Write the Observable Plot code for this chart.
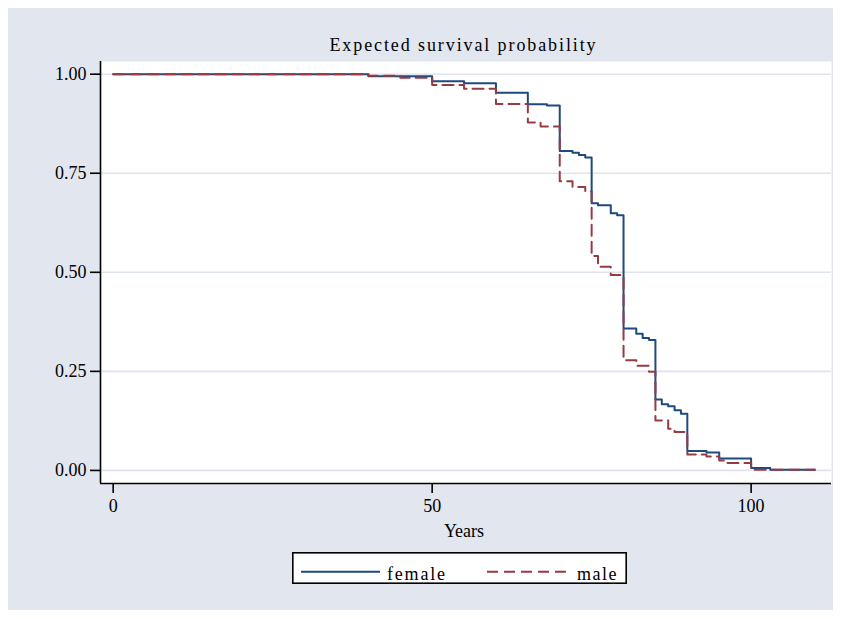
<!DOCTYPE html>
<html>
<head>
<meta charset="utf-8">
<script src="https://cdn.jsdelivr.net/npm/d3@7"></script>
<script src="https://cdn.jsdelivr.net/npm/@observablehq/plot@0.6"></script>
<style>
  html, body { margin: 0; padding: 0; background: #ffffff; }
  #wrap { position: relative; width: 841px; height: 619px; font-family: "Liberation Serif", serif; }
  #bg { position: absolute; left: 8px; top: 8px; width: 825px; height: 602px; background: #e2e6ef; }
  #chart { position: absolute; left: 0; top: 0; }
  #title { position: absolute; left: 98px; width: 731px; top: 36px; text-align: center;
           font-size: 18px; line-height: 18px; letter-spacing: 1.9px; color: #000; }
  #legend { position: absolute; left: 292px; top: 552px; width: 335px; height: 32px; }
</style>
</head>
<body>
<div id="wrap">
  <div id="bg"></div>
  <div id="chart"></div>
  <div id="title">Expected survival probability</div>
  <div id="legend"></div>
</div>
<script>
// ---- data ----
const femaleYears = [0, 40, 50, 55, 60, 65, 68, 70, 72, 73, 74, 75, 76, 78, 79, 80, 82, 83, 84, 85, 86, 87, 88, 89, 90, 93, 95, 100, 103, 110];
const femaleSurv  = [1.000, 0.995, 0.982, 0.977, 0.953, 0.924, 0.921, 0.806, 0.802, 0.796, 0.790, 0.674, 0.669, 0.649, 0.644, 0.358, 0.345, 0.334, 0.329, 0.179, 0.167, 0.162, 0.152, 0.143, 0.049, 0.045, 0.030, 0.006, 0.002, 0.002];
const maleYears   = [0, 40, 45, 50, 55, 60, 65, 67, 70, 72, 74, 75, 76, 78, 80, 82, 84, 85, 87, 88, 90, 93, 95, 96, 100, 110];
const maleSurv    = [1.000, 0.996, 0.991, 0.973, 0.963, 0.925, 0.878, 0.868, 0.730, 0.715, 0.704, 0.541, 0.514, 0.493, 0.278, 0.264, 0.249, 0.126, 0.105, 0.097, 0.040, 0.035, 0.025, 0.019, 0.002, 0.002];
const seriesNames = ["female", "male"];
const xTicks = [0, 50, 100];
const yTicks = [0, 0.25, 0.5, 0.75, 1];
const titleText = "Expected survival probability";
const xLabel = "Years";

// ---- styles ----
const navy = "#1f4a7e";
const maroon = "#983a42";
const gridColor = "#dfe4ee";
const dash = "11,6";
const xDomain = [-1.99, 112.6];
const yDomain = [-0.033, 1.032];
const font = "Liberation Serif";

const female = femaleYears.map((y, i) => ({year: y, surv: femaleSurv[i]}));
const male = maleYears.map((y, i) => ({year: y, surv: maleSurv[i]}));

const chart = Plot.plot({
  width: 841,
  height: 545,
  marginLeft: 100,
  marginRight: 10,
  marginTop: 61,
  marginBottom: 62,
  style: {background: "transparent", fontFamily: font, fontSize: "18px", color: "#000", overflow: "visible"},
  x: {domain: xDomain},
  y: {domain: yDomain},
  marks: [
    Plot.frame({fill: "white", stroke: "none"}),
    Plot.ruleY(yTicks, {stroke: gridColor, strokeWidth: 1.6}),
    Plot.line(female, {x: "year", y: "surv", curve: "step-after", stroke: navy, strokeWidth: 2}),
    Plot.line(male, {x: "year", y: "surv", curve: "step-after", stroke: maroon, strokeWidth: 2, strokeDasharray: dash}),
    Plot.ruleX([xDomain[0]], {stroke: "#000", strokeWidth: 1.6}),
    Plot.ruleY([yDomain[0]], {stroke: "#000", strokeWidth: 1.6}),
    Plot.axisY({ticks: yTicks, tickFormat: d3.format(".2f"), tickSize: 10, tickPadding: 4, label: null, stroke: "#000", strokeWidth: 1.6, fill: "#000", fontSize: 18, letterSpacing: 0.5}),
    Plot.axisX({ticks: xTicks, tickSize: 10, tickPadding: 6, label: null, stroke: "#000", strokeWidth: 1.6, fill: "#000", fontSize: 18}),
    Plot.text([xLabel], {text: d => d, frameAnchor: "bottom", dy: 53, dx: -2, fontSize: 18, fill: "#000", fontFamily: font})
  ]
});
document.getElementById("chart").appendChild(chart);
document.getElementById("title").textContent = titleText;

// ---- legend ----
const ns = "http://www.w3.org/2000/svg";
const lg = document.createElementNS(ns, "svg");
lg.setAttribute("width", 335);
lg.setAttribute("height", 32);
lg.style.display = "block";
function el(tag, attrs, txt) {
  const e = document.createElementNS(ns, tag);
  for (const k in attrs) e.setAttribute(k, attrs[k]);
  if (txt) e.textContent = txt;
  lg.appendChild(e);
  return e;
}
el("rect", {x: 0.8, y: 0.8, width: 333.4, height: 30.4, fill: "#fff", stroke: "#000", "stroke-width": 1.6});
el("line", {x1: 9, x2: 88, y1: 19.7, y2: 19.7, stroke: navy, "stroke-width": 2});
el("text", {x: 95, y: 28, "font-family": font, "font-size": 18, "letter-spacing": 1.8, fill: "#000"}, seriesNames[0]);
el("line", {x1: 195, x2: 275, y1: 19.7, y2: 19.7, stroke: maroon, "stroke-width": 2, "stroke-dasharray": dash});
el("text", {x: 285, y: 28, "font-family": font, "font-size": 18, "letter-spacing": 1.5, fill: "#000"}, seriesNames[1]);
document.getElementById("legend").appendChild(lg);
</script>
</body>
</html>
